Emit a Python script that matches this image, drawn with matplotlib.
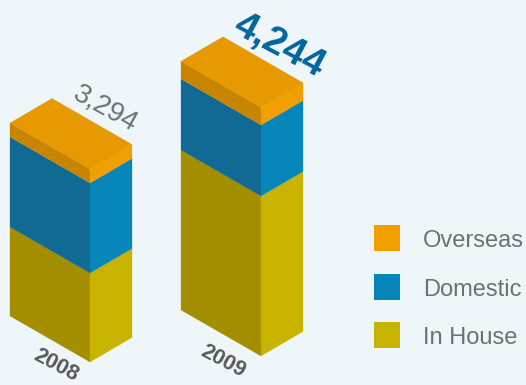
import matplotlib
matplotlib.use('Agg')
import matplotlib.pyplot as plt
from matplotlib.patches import Polygon, Rectangle

years = ['2008', '2009']
totals = ['3,294', '4,244']
series = ['In House', 'Domestic', 'Overseas']
in_house = [1519, 2730]
domestic = [1536, 1212]
overseas = [239, 302]

# left face, right face, top face
colors = {
    'In House': ('#A38E00', '#C8B400', None),
    'Domestic': ('#106A93', '#0786BA', None),
    'Overseas': ('#C88600', '#F09F00', '#E69900'),
}
legend_colors = ['#C8B400', '#0585BA', '#F29F00']
bg = '#EEF6FA'

W, H = 526, 385
SCALE = 0.0586          # pixels per unit
BASE = 362              # pixel row of value zero
LEFT_W, LEFT_DROP = 80, 46
RIGHT_W, RIGHT_RISE = 42, 24.5

plt.rcParams['font.family'] = ['Liberation Sans', 'DejaVu Sans']

fig = plt.figure(figsize=(W / 100, H / 100), dpi=100, facecolor=bg)
ax = fig.add_axes([0, 0, 1, 1])
ax.set_facecolor(bg)
ax.set_xlim(0, W)
ax.set_ylim((BASE - H) / SCALE, BASE / SCALE)
ax.axis('off')

dy = 1 / SCALE  # one pixel, in value units


def draw_bar(front_x, base, values):
    bottom = base
    for name, val in zip(series, values):
        top = bottom + val
        left_c, right_c, top_c = colors[name]
        lx = front_x - LEFT_W
        rx = front_x + RIGHT_W
        ax.add_patch(Polygon([(lx, bottom + LEFT_DROP * dy), (front_x, bottom),
                              (front_x, top), (lx, top + LEFT_DROP * dy)],
                             fc=left_c, ec=left_c, lw=0.2))
        ax.add_patch(Polygon([(front_x, bottom), (rx, bottom + RIGHT_RISE * dy),
                              (rx, top + RIGHT_RISE * dy), (front_x, top)],
                             fc=right_c, ec=right_c, lw=0.2))
        if top_c:
            ax.add_patch(Polygon([(front_x, top), (rx, top + RIGHT_RISE * dy),
                                  (rx - LEFT_W, top + (RIGHT_RISE + LEFT_DROP) * dy),
                                  (lx, top + LEFT_DROP * dy)],
                                 fc=top_c, ec=top_c, lw=0.2))
        bottom = top


stacks = list(zip(in_house, domestic, overseas))
draw_bar(90, 0, stacks[0])
draw_bar(261, 6 * dy, stacks[1])


def px(x, y):
    return x, (BASE - y) / SCALE


# value labels along the top edge
ax.text(*px(105, 109), totals[0], rotation=-29, ha='center', va='center',
        rotation_mode='anchor', fontsize=20, color='#6E7174')
ax.text(*px(279, 46), totals[1], rotation=-28, ha='center', va='center',
        rotation_mode='anchor', fontsize=28, fontweight='bold', color='#00659E')

# year labels under the bars
ax.text(*px(56, 365), years[0], rotation=-28, ha='center', va='center',
        rotation_mode='anchor', fontsize=15.5, fontweight='bold', color='#58595B')
ax.text(*px(223, 361), years[1], rotation=-28, ha='center', va='center',
        rotation_mode='anchor', fontsize=15.5, fontweight='bold', color='#58595B')

# legend
rows = [335, 287, 238]
for name, c, row in zip(series, legend_colors, rows):
    x, y = px(374, row + 13)
    ax.add_patch(Rectangle((x, y), 26, 26 * dy, fc=c, ec='none'))
    ax.text(*px(423, row + 3), name, ha='left', va='center', fontsize=17,
            color='#6E7174')

fig.savefig('out.png', dpi=100, facecolor=bg)
